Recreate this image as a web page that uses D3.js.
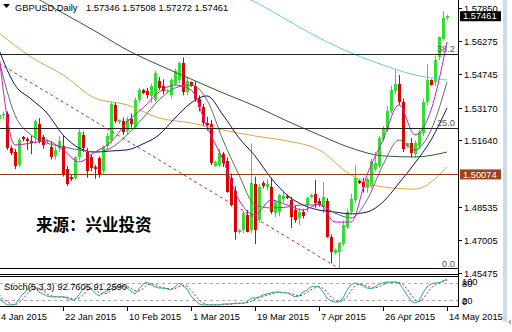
<!DOCTYPE html>
<html>
<head>
<meta charset="utf-8">
<script src="https://cdn.jsdelivr.net/npm/d3@7"></script>
<style>
  body { margin: 0; background: #fff; }
  svg { display: block; }
  text { font-family: "Liberation Sans", Arial, sans-serif; font-size: 9.3px; fill: #000; }
</style>
</head>
<body>
<svg id="chart" width="512" height="332"></svg>
<script>
// Daily candles, Sun-Fri bars from 4 Jan 2015 to 14 May 2015
const opens = [1.5262,1.5282,1.5290,1.5128,1.5110,1.5050,1.5180,1.5172,1.5160,1.5180,1.5240,1.5180,1.5160,1.5135,1.5090,1.5130,1.5140,1.5030,1.4995,1.4990,
  1.5085,1.5190,1.5110,1.5085,1.5040,1.5080,1.5020,1.5140,1.5165,1.5330,1.5250,1.5255,1.5210,1.5262,1.5225,1.5353,1.5400,1.5395,1.5370,1.5355,
  1.5440,1.5420,1.5395,1.5375,1.5430,1.5445,1.5525,1.5390,1.5435,1.5420,1.5360,1.5320,1.5245,1.5240,1.5045,1.5050,1.5100,1.5070,1.4990,1.4930,
  1.4735,1.4745,1.4815,1.4745,1.4960,1.4795,1.4965,1.4945,1.4945,1.4826,1.4830,1.4890,1.4905,1.4885,1.4840,1.4800,1.4830,1.4863,1.4900,1.4915,
  1.4880,1.4855,1.4880,1.4715,1.4640,1.4645,1.4680,1.4760,1.4830,1.4885,1.4975,1.4970,1.4940,1.4950,1.5030,1.5045,1.5170,1.5215,1.5300,1.5395,
  1.5430,1.5345,1.5140,1.5150,1.5100,1.5140,1.5200,1.5345,1.5445,1.5435,1.5555,1.5640,1.57346];
const highs = [1.5290,1.5298,1.5300,1.5140,1.5125,1.5175,1.5185,1.5180,1.5185,1.5262,1.5268,1.5190,1.5172,1.5160,1.5135,1.5185,1.5185,1.5045,1.5005,1.5090,
  1.5218,1.5205,1.5130,1.5100,1.5050,1.5090,1.5140,1.5200,1.5345,1.5340,1.5262,1.5270,1.5275,1.5290,1.5365,1.5410,1.5405,1.5410,1.5430,1.5490,
  1.5460,1.5450,1.5405,1.5455,1.5500,1.5530,1.5552,1.5460,1.5440,1.5440,1.5375,1.5335,1.5275,1.5260,1.5070,1.5125,1.5110,1.5085,1.5010,1.4950,
  1.4750,1.4835,1.4840,1.5150,1.4995,1.4960,1.4975,1.4985,1.4990,1.4885,1.4915,1.4930,1.4912,1.4900,1.4860,1.4850,1.4845,1.4900,1.4915,1.4980,
  1.4895,1.4970,1.4895,1.4725,1.4660,1.4690,1.4790,1.4845,1.4915,1.5050,1.4985,1.4990,1.4990,1.5080,1.5110,1.5185,1.5232,1.5325,1.5420,1.5497,
  1.5470,1.5360,1.5155,1.5175,1.5165,1.5220,1.5360,1.5520,1.5450,1.5560,1.5650,1.5768,1.57508];
const lows = [1.5255,1.5262,1.5120,1.5095,1.5030,1.5040,1.5160,1.5120,1.5100,1.5150,1.5150,1.5125,1.5150,1.5075,1.5075,1.5110,1.4995,1.4952,1.4975,1.4980,
  1.5070,1.5110,1.4990,1.5020,1.4985,1.4990,1.5010,1.5120,1.5150,1.5245,1.5240,1.5190,1.5195,1.5225,1.5215,1.5340,1.5380,1.5360,1.5340,1.5345,
  1.5400,1.5380,1.5385,1.5360,1.5420,1.5430,1.5375,1.5375,1.5415,1.5345,1.5300,1.5230,1.5210,1.5050,1.5040,1.5040,1.5040,1.4920,1.4855,1.4700,
  1.4728,1.4730,1.4735,1.4730,1.4680,1.4780,1.4940,1.4930,1.4820,1.4805,1.4810,1.4875,1.4890,1.4755,1.4780,1.4770,1.4800,1.4830,1.4895,1.4850,
  1.4855,1.4825,1.4710,1.4590,1.4632,1.4566,1.4670,1.4750,1.4820,1.4870,1.4960,1.4920,1.4920,1.4940,1.5020,1.5035,1.5160,1.5205,1.5290,1.5380,
  1.5330,1.5110,1.5130,1.5085,1.5085,1.5125,1.5185,1.5330,1.5420,1.5420,1.5540,1.5630,1.57272];
const closes = [1.5282,1.5290,1.5130,1.5105,1.5045,1.5165,1.5170,1.5160,1.5150,1.5255,1.5155,1.5145,1.5168,1.5085,1.5120,1.5160,1.5005,1.4960,1.4985,1.5085,
  1.5205,1.5130,1.5020,1.5035,1.5030,1.5005,1.5132,1.5185,1.5335,1.5255,1.5258,1.5205,1.5262,1.5240,1.5353,1.5400,1.5385,1.5375,1.5420,1.5480,
  1.5410,1.5395,1.5400,1.5445,1.5490,1.5525,1.5390,1.5440,1.5420,1.5360,1.5320,1.5245,1.5235,1.5060,1.5062,1.5105,1.5060,1.4925,1.4865,1.4738,
  1.4748,1.4825,1.4738,1.4965,1.4745,1.4945,1.4950,1.4962,1.4830,1.4875,1.4908,1.4905,1.4895,1.4806,1.4795,1.4830,1.4810,1.4895,1.4910,1.4870,
  1.4865,1.4900,1.4715,1.4645,1.4652,1.4685,1.4768,1.4830,1.4890,1.4990,1.4965,1.4945,1.4985,1.5070,1.5060,1.5175,1.5222,1.5300,1.5400,1.5430,
  1.5345,1.5125,1.5150,1.5105,1.5150,1.5205,1.5345,1.5445,1.5425,1.5540,1.5645,1.5735,1.57461];

// moving averages (values at every 4th / 8th bar)
const fastIdx = d3.range(0, 113, 4);
const maPurple = [1.5563,1.5143,1.5152,1.5162,1.5120,1.5064,1.5110,1.5157,1.5250,1.5316,1.5390,1.5423,1.5400,1.5227,1.5073,
  1.4886,1.4816,1.4886,1.4863,1.4839,1.4867,1.4783,1.4783,1.5003,1.5166,1.5330,1.5190,1.5306,1.5624];
const maGray = [1.5540,1.5283,1.5190,1.5152,1.5134,1.5120,1.5110,1.5129,1.5190,1.5269,1.5353,1.5409,1.5423,1.5353,1.5166,
  1.5003,1.4863,1.4849,1.4853,1.4863,1.4863,1.4825,1.4802,1.4886,1.5050,1.5166,1.5120,1.5213,1.5437];
const maNavy = [1.5587,1.5423,1.5358,1.5292,1.5190,1.5129,1.5110,1.5115,1.5120,1.5148,1.5190,1.5269,1.5339,1.5372,1.5283,
  1.5176,1.5092,1.4989,1.4909,1.4863,1.4839,1.4830,1.4821,1.4830,1.4877,1.4965,1.5059,1.5166,1.5316];
const slowIdx = d3.range(0, 113, 8);
const maOrange = [1.5666,1.5554,1.5470,1.5362,1.5330,1.5269,1.5246,1.5213,1.5185,1.5162,1.5120,1.5003,1.4947,1.4937,1.5040];
const maGreen = [1.5923,1.5843,1.5759,1.5675,1.5587,1.5516,1.5451,1.5386,1.5325,1.5255,1.5190,1.5129,1.5092,1.5087,1.5110];
const cyanIdx = d3.range(56, 113, 8);
const maCyan = [1.5876,1.5811,1.5727,1.5643,1.5573,1.5516,1.5470,1.5446];

// Stoch(5,3,3)
const stochK = [32,14,4,4,4,25,42,56,67,70,49,42,35,32,32,32,32,28,21,21,39,60,67,60,46,35,46,53,60,67,
  70,70,63,53,42,60,77,84,74,67,63,63,60,56,67,81,70,60,35,21,7,4,4,4,4,4,7,7,7,10,
  10,10,14,28,28,32,39,42,46,49,49,46,46,39,32,35,49,56,67,70,67,49,28,18,14,14,28,56,74,81,
  77,70,63,60,67,77,81,84,84,84,81,60,39,18,10,18,46,67,77,81,81,88,93];
const stochD = [40,25,15,7,4,11,24,41,55,64,62,54,42,36,33,32,32,31,27,23,27,40,55,62,58,47,42,45,53,60,
  66,69,68,62,53,52,60,74,78,75,68,64,62,60,61,68,73,70,55,39,21,11,5,4,4,4,5,6,7,8,
  9,10,11,17,23,29,33,38,42,46,48,48,47,44,39,35,39,47,57,64,68,62,48,32,20,15,19,33,53,70,
  77,76,70,64,63,68,75,81,83,84,83,75,60,39,22,15,25,44,63,75,80,86,91];

const dateLabels = ["4 Jan 2015","22 Jan 2015","10 Feb 2015","1 Mar 2015","19 Mar 2015","7 Apr 2015","26 Apr 2015","14 May 2015"];
const dateIdx = [0,16,32,48,64,80,96,112];
const priceTicks = [1.57850,1.56275,1.54745,1.53170,1.51640,1.48535,1.47005,1.45475];
const lastPrice = 1.57461;
const hLinePrice = 1.50074;
const fibLow = 1.4566, fibHigh = 1.7190;
const fibLevels = [0, 25, 38.2];
const fibTrend = [[0, 1.5524], [85, 1.4566]];

const svg = d3.select("#chart");
const W = 458, mainBottom = 268.5;

const x = d3.scaleLinear().domain([0, 112]).range([-1, 447]);
const y = d3.scaleLinear().domain([1.45475, 1.5785]).range([272.5, 7.5]);
const ys = d3.scaleLinear().domain([0, 100]).range([306, 277.5]);

svg.append("defs").append("clipPath").attr("id", "mainclip")
  .append("rect").attr("x", 0).attr("y", 0).attr("width", W).attr("height", mainBottom);
svg.select("defs").append("clipPath").attr("id", "subclip")
  .append("rect").attr("x", 0).attr("y", 277).attr("width", W).attr("height", 30);

const main = svg.append("g").attr("clip-path", "url(#mainclip)");

// candles
const bars = d3.range(opens.length);
const up = (i) => closes[i] >= opens[i];
main.append("g").selectAll("line").data(bars).enter().append("line")
  .attr("x1", (i) => x(i) + 0.5).attr("x2", (i) => x(i) + 0.5)
  .attr("y1", (i) => y(highs[i])).attr("y2", (i) => y(lows[i]))
  .attr("stroke", (i) => (up(i) ? "#33dd33" : "#e00000")).attr("stroke-width", 1);
main.append("g").selectAll("rect").data(bars).enter().append("rect")
  .attr("x", (i) => x(i) - 1).attr("width", 3)
  .attr("y", (i) => y(Math.max(opens[i], closes[i])))
  .attr("height", (i) => Math.max(1, Math.abs(y(opens[i]) - y(closes[i]))))
  .attr("fill", (i) => (up(i) ? "#33dd33" : "#e00000"))
  .attr("shape-rendering", "crispEdges");

// moving averages
const maLine = (idx) => d3.line().x((d, k) => x(idx[k])).y((d) => y(d)).curve(d3.curveMonotoneX);
const mas = [
  { idx: cyanIdx, vals: maCyan, color: "#5fd0e0" },
  { idx: slowIdx, vals: maGreen, color: "#2e5e2e" },
  { idx: slowIdx, vals: maOrange, color: "#d9a94a" },
  { idx: fastIdx, vals: maNavy, color: "#15156e" },
  { idx: fastIdx, vals: maGray, color: "#5f6f66" },
  { idx: fastIdx, vals: maPurple, color: "#c522c5" }
];
mas.forEach((m) => {
  main.append("path").datum(m.vals).attr("d", maLine(m.idx))
    .attr("fill", "none").attr("stroke", m.color).attr("stroke-width", 1);
});

// fibonacci levels and trend line
fibLevels.forEach((lv) => {
  const py = Math.round(y(fibLow + (fibHigh - fibLow) * lv / 100)) + 0.5;
  main.append("line").attr("x1", 0).attr("x2", W).attr("y1", py).attr("y2", py)
    .attr("stroke", "#222").attr("stroke-width", 1);
  main.append("text").attr("x", 455).attr("y", py - 2.5).attr("text-anchor", "end")
    .style("fill", "#555").text(lv.toFixed(1));
});
main.append("line")
  .attr("x1", x(fibTrend[0][0])).attr("y1", y(fibTrend[0][1]))
  .attr("x2", x(fibTrend[1][0])).attr("y2", y(fibTrend[1][1]))
  .attr("stroke", "#b03030").attr("stroke-width", 1).attr("stroke-dasharray", "3,3");

const hy = Math.round(y(hLinePrice)) + 0.5;
main.append("line").attr("x1", 0).attr("x2", W).attr("y1", hy).attr("y2", hy)
  .attr("stroke", "#8b3a1a").attr("stroke-width", 1);

// watermark
svg.append("text").attr("x", 36).attr("y", 231)
  .style("font-family", "'Noto Sans CJK SC', sans-serif").style("font-size", "16.5px").style("font-weight", "bold")
  .text("来源：兴业投资");

// title
svg.append("path").attr("d", "M3,4 L10,4 L6.5,8 Z").attr("fill", "#000");
svg.append("text").attr("x", 15).attr("y", 11).text("GBPUSD,Daily");
svg.append("text").attr("x", 86).attr("y", 11).text("1.57346 1.57508 1.57272 1.57461");

// frames
svg.append("line").attr("x1", W + 0.5).attr("x2", W + 0.5).attr("y1", 0).attr("y2", 307)
  .attr("stroke", "#000");
[mainBottom, 274.5, 276.5, 306.5].forEach((ly) => {
  svg.append("line").attr("x1", 0).attr("x2", W).attr("y1", ly).attr("y2", ly).attr("stroke", "#000");
});

// price axis
priceTicks.forEach((p) => {
  const py = Math.round(y(p)) + 0.5;
  svg.append("line").attr("x1", W).attr("x2", W + 4).attr("y1", py).attr("y2", py).attr("stroke", "#000");
  svg.append("text").attr("x", 464).attr("y", py + 3).text(p.toFixed(5));
});
[[lastPrice, "#000"], [hLinePrice, "#a0401c"]].forEach(([p, c]) => {
  const py = y(p);
  svg.append("rect").attr("x", 460).attr("y", py - 4.6).attr("width", 41).attr("height", 10).attr("fill", c);
  svg.append("text").attr("x", 463).attr("y", py + 3.6).style("fill", "#fff").text(p.toFixed(5));
});

// stochastic panel
const sub = svg.append("g").attr("clip-path", "url(#subclip)");
[80, 20].forEach((lv) => {
  const py = Math.round(ys(lv)) + 0.5;
  sub.append("line").attr("x1", 0).attr("x2", W).attr("y1", py).attr("y2", py)
    .attr("stroke", "#aaa").attr("stroke-dasharray", "3,3");
});
const sLine = d3.line().x((d, i) => x(i)).y((d) => ys(d));
sub.append("path").datum(stochD).attr("d", sLine).attr("fill", "none")
  .attr("stroke", "#c02828").attr("stroke-dasharray", "2,2");
sub.append("path").datum(stochK).attr("d", sLine).attr("fill", "none")
  .attr("stroke", "#2aa8a0");
svg.append("text").attr("x", 4).attr("y", 290).text("Stoch(5,3,3) 92.7605 91.2590");
// MT4 clamps these scale labels inside the small window, so they overprint in pairs
[["100", 285], ["80", 286.5], ["20", 303.5], ["0", 305]].forEach(([t, ty]) => {
  svg.append("text").attr("x", 462).attr("y", ty).text(t);
});

// date axis
dateIdx.forEach((d, k) => {
  const px = Math.round(x(d)) + 0.5;
  svg.append("line").attr("x1", px).attr("x2", px).attr("y1", 307).attr("y2", 311).attr("stroke", "#000");
  svg.append("text").attr("x", px + 1.5).attr("y", 320).text(dateLabels[k]);
});

// scroll strip on the right
svg.append("rect").attr("x", 503).attr("y", 0).attr("width", 4).attr("height", 322).attr("fill", "#c9dcf0");
svg.append("path").attr("d", "M511,319 L508,322 L511,325 Z").attr("fill", "#9aa");
</script>
</body>
</html>
